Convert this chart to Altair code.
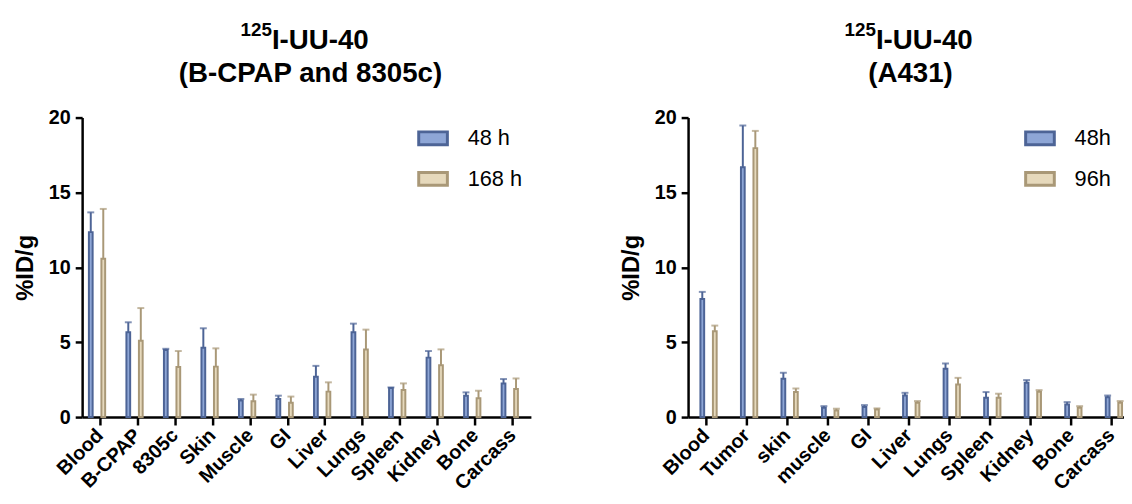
import altair as alt
import pandas as pd

# ---------------- data ----------------
left_organs = ["Blood", "B-CPAP", "8305c", "Skin", "Muscle", "GI", "Liver",
               "Lungs", "Spleen", "Kidney", "Bone", "Carcass"]
left_groups = ["48 h", "168 h"]
left_a_mean = [12.35, 5.67, 4.48, 4.63, 1.10, 1.21, 2.69, 5.67, 1.94, 3.97, 1.43, 2.25]
left_a_upper = [13.67, 6.33, 4.56, 5.93, 1.21, 1.43, 3.42, 6.24, 1.98, 4.41, 1.65, 2.54]
left_b_mean = [10.58, 5.09, 3.35, 3.37, 1.06, 0.95, 1.70, 4.52, 1.81, 3.46, 1.26, 1.87]
left_b_upper = [13.90, 7.28, 4.41, 4.59, 1.50, 1.37, 2.32, 5.84, 2.25, 4.52, 1.76, 2.58]
left_title = ["125", "I-UU-40", "(B-CPAP and 8305c)"]

right_organs = ["Blood", "Tumor", "skin", "muscle", "GI", "Liver", "Lungs",
                "Spleen", "Kidney", "Bone", "Carcass"]
right_groups = ["48h", "96h"]
right_a_mean = [7.89, 16.69, 2.56, 0.62, 0.67, 1.44, 3.22, 1.29, 2.29, 0.84, 1.33]
right_a_upper = [8.36, 19.47, 2.96, 0.73, 0.80, 1.62, 3.58, 1.67, 2.47, 1.00, 1.44]
right_b_mean = [5.73, 17.96, 1.67, 0.44, 0.51, 0.96, 2.18, 1.29, 1.69, 0.62, 0.96]
right_b_upper = [6.11, 19.11, 1.91, 0.56, 0.58, 1.07, 2.62, 1.56, 1.80, 0.73, 1.07]
right_title = ["125", "I-UU-40", "(A431)"]

y_ticks = [0, 5, 10, 15, 20]

FILLS = ["#8ea6d6", "#e6d9bc"]
STROKES = ["#4d6496", "#a99877"]
FONT = "Liberation Sans"
H = 303


def panel(organs, groups, a_mean, a_upper, b_mean, b_upper, title, width,
          po, sup_x, sub_x, leg_x):
    rows = []
    for i, o in enumerate(organs):
        rows.append({"organ": o, "group": groups[0], "mean": a_mean[i],
                     "upper": a_upper[i], "ecol": STROKES[0]})
        rows.append({"organ": o, "group": groups[1], "mean": b_mean[i],
                     "upper": b_upper[i], "ecol": STROKES[1]})
    df = pd.DataFrame(rows)

    x = alt.X("organ:N", sort=organs, title=None,
              scale=alt.Scale(paddingInner=0.4, paddingOuter=po),
              axis=alt.Axis(labelAngle=-45, tickSize=8, labelFontSize=20,
                            labelAlign="right", labelBaseline="middle",
                            labelPadding=7))
    xo = alt.XOffset("group:N", sort=groups,
                     scale=alt.Scale(paddingInner=0.4, paddingOuter=0))
    y = alt.Y("mean:Q", title="%ID/g",
              scale=alt.Scale(domain=[0, 20], nice=False, zero=True),
              axis=alt.Axis(values=y_ticks, tickSize=7, labelPadding=5,
                            labelFontSize=20, titleFontSize=24,
                            titlePadding=11))
    leg = alt.Legend(title=None, orient="none", legendX=leg_x, legendY=5,
                     symbolType="M-1,-0.45H1V0.45H-1Z", symbolSize=841,
                     symbolStrokeWidth=3, labelFontSize=22, labelFont=FONT,
                     labelFontWeight="normal", labelOffset=19, rowPadding=12,
                     labelColor="black")
    base = alt.Chart(df)
    bars = base.mark_bar(strokeWidth=2).encode(
        x=x, xOffset=xo, y=y,
        fill=alt.Fill("group:N", sort=groups,
                      scale=alt.Scale(domain=groups, range=FILLS), legend=leg),
        stroke=alt.Stroke("group:N", sort=groups,
                          scale=alt.Scale(domain=groups, range=STROKES),
                          legend=leg),
    )
    err = base.mark_rule(strokeWidth=2).encode(
        x=x, xOffset=xo, y="mean:Q", y2="upper:Q",
        color=alt.Color("ecol:N", scale=None),
    )
    cap = base.mark_tick(thickness=2, size=7, orient="horizontal").encode(
        x=x, xOffset=xo, y="upper:Q",
        color=alt.Color("ecol:N", scale=None),
    )
    t_sup = alt.Chart(pd.DataFrame({"t": [title[0]]})).mark_text(
        font=FONT, fontWeight="bold", fontSize=19, align="right",
        baseline="alphabetic", color="black").encode(
        x=alt.value(sup_x), y=alt.value(-83), text="t:N")
    t_main = alt.Chart(pd.DataFrame({"t": [title[1]]})).mark_text(
        font=FONT, fontWeight="bold", fontSize=28, align="left",
        baseline="alphabetic", color="black").encode(
        x=alt.value(sup_x), y=alt.value(-69), text="t:N")
    t_sub = alt.Chart(pd.DataFrame({"t": [title[2]]})).mark_text(
        font=FONT, fontWeight="bold", fontSize=28, align="center",
        baseline="alphabetic", color="black").encode(
        x=alt.value(sub_x), y=alt.value(-36), text="t:N")
    return alt.layer(bars, err, cap, t_sup, t_main, t_sub).properties(
        width=width, height=H)


left = panel(left_organs, left_groups, left_a_mean, left_a_upper,
             left_b_mean, left_b_upper, left_title, 454, 0.18,
             192, 231, 339)
right = panel(right_organs, right_groups, right_a_mean, right_a_upper,
              right_b_mean, right_b_upper, right_title, 447, 0.15,
              190, 225, 340)

chart = alt.hconcat(left, right, spacing=89).resolve_scale(
    fill="independent", stroke="independent", x="independent"
).properties(
    padding={"left": 5, "top": 10, "right": -6, "bottom": 0}
).configure_view(stroke=None).configure_axis(
    domainColor="black", domainWidth=2.5, tickColor="black", tickWidth=2.5,
    labelFont=FONT, labelFontWeight="bold", labelColor="black",
    titleFont=FONT, titleFontWeight="bold", titleColor="black", grid=False,
)

chart.save("out.html", embed_options={"renderer": "svg", "actions": False})
